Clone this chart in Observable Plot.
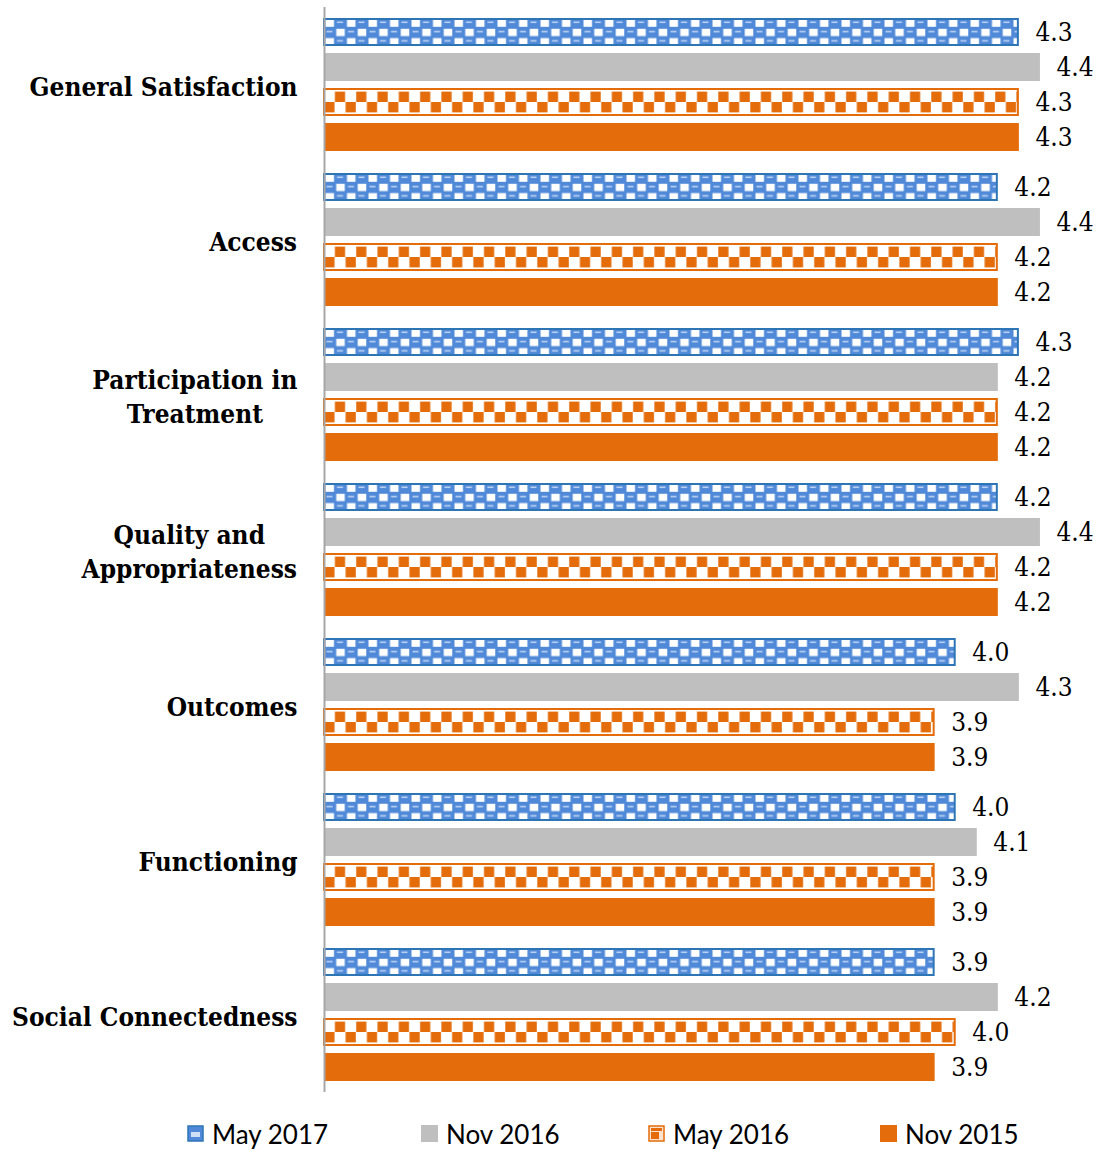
<!DOCTYPE html>
<html>
<head>
<meta charset="utf-8">
<script src="https://cdn.jsdelivr.net/npm/d3@7"></script>
<script src="https://cdn.jsdelivr.net/npm/@observablehq/plot@0.6"></script>
<style>
  body { margin: 0; background: #fff; }
  #chart { width: 1101px; position: relative; }
  .legend { display: flex; padding-left: 187px; height: 51px; align-items: center; padding-top: 16px; box-sizing: border-box;
            font-family: Lato, "Open Sans", sans-serif; font-size: 26px; color: #000; }
  .legend .item { display: flex; align-items: center; }
  .legend svg { margin-right: 8px; }
</style>
</head>
<body>
<div id="chart"></div>
<script>
const categories = ["General Satisfaction", "Access", "Participation in\nTreatment", "Quality and\nAppropriateness", "Outcomes", "Functioning", "Social Connectedness"];
const seriesNames = ["May 2017", "Nov 2016", "May 2016", "Nov 2015"];
const may2017 = [4.3, 4.2, 4.3, 4.2, 4.0, 4.0, 3.9];
const nov2016 = [4.4, 4.4, 4.2, 4.4, 4.3, 4.1, 4.2];
const may2016 = [4.3, 4.2, 4.2, 4.2, 3.9, 3.9, 4.0];
const nov2015 = [4.3, 4.2, 4.2, 4.2, 3.9, 3.9, 3.9];
const scaleMin = 1;

const seriesValues = [may2017, nov2016, may2016, nov2015];
const data = categories.flatMap((c, i) => seriesNames.map((s, j) => ({category: c, series: s, value: seriesValues[j][i]})));

const BLUE = "#2E75B6", BLUEFILL = "#4F89D8", ORANGE = "#E46C0A", GRAY = "#BFBFBF";
const seriesStyle = {
  "May 2017": {fill: "url(#patBlue)", stroke: BLUE, strokeWidth: 2, inset: 1},
  "Nov 2016": {fill: GRAY},
  "May 2016": {fill: "url(#patOrange)", stroke: ORANGE, strokeWidth: 2, inset: 1},
  "Nov 2015": {fill: ORANGE}
};

const labelFont = '"DejaVu Serif Condensed", "DejaVu Serif", serif';

const bars = seriesNames.map(s => Plot.barX(data.filter(d => d.series === s), {
  x1: () => scaleMin, x2: "value", y: "series", fy: "category",
  fill: seriesStyle[s].fill, stroke: seriesStyle[s].stroke, strokeWidth: seriesStyle[s].strokeWidth,
  insetTop: seriesStyle[s].inset || 0, insetBottom: seriesStyle[s].inset || 0, insetRight: seriesStyle[s].inset || 0
}));

const chart = Plot.plot({
  width: 1101, height: 1100,
  marginLeft: 324, marginRight: 40, marginTop: 5, marginBottom: 7,
  x: {domain: [scaleMin, 4.5], axis: null},
  y: {domain: seriesNames, axis: null, paddingInner: 0.21, paddingOuter: 0.29},
  fy: {domain: categories, padding: 0, axis: null},
  style: {background: "#fff"},
  marks: [
    ...bars,
    Plot.text(data, {x: "value", y: "series", fy: "category", text: d => d.value.toFixed(1),
      textAnchor: "start", dx: 16, fontSize: 26, fontFamily: labelFont, fill: "#000"}),
    Plot.ruleX([scaleMin], {stroke: "#A6A6A6", strokeWidth: 2}),
    Plot.axisFy({anchor: "left", tickSize: 0, tickPadding: 27, label: null, fontSize: 26,
      fontWeight: "bold", fontFamily: labelFont, lineHeight: 1.3, fill: "#000"})
  ]
});

// pattern definitions, aligned with the bands of their series
const ys = chart.scale("y"), xs = chart.scale("x");
const x0 = xs.apply(scaleMin);
const defs = d3.select(chart).insert("defs", ":first-child");
const pb = defs.append("pattern").attr("id", "patBlue").attr("patternUnits", "userSpaceOnUse")
  .attr("x", x0).attr("y", ys.apply("May 2017")).attr("width", 21.5).attr("height", 18.6);
pb.append("rect").attr("width", 21.5).attr("height", 18.6).attr("fill", BLUEFILL);
pb.append("rect").attr("x", 1.5).attr("y", 1.5).attr("width", 8.5).attr("height", 7.3).attr("fill", "#fff");
pb.append("rect").attr("x", 12.25).attr("y", 10.8).attr("width", 8.5).attr("height", 7.3).attr("fill", "#fff");
pb.append("rect").attr("x", 13).attr("y", 3.5).attr("width", 6).attr("height", 1.5).attr("fill", "#C2D7F3");
pb.append("rect").attr("x", 2.5).attr("y", 12.8).attr("width", 6).attr("height", 1.5).attr("fill", "#C2D7F3");
const po = defs.append("pattern").attr("id", "patOrange").attr("patternUnits", "userSpaceOnUse")
  .attr("x", x0).attr("y", ys.apply("May 2016")).attr("width", 21.3).attr("height", ys.bandwidth);
po.append("rect").attr("width", 21.3).attr("height", ys.bandwidth).attr("fill", "#fff");
po.append("rect").attr("x", 10.9).attr("y", 3.6).attr("width", 10.2).attr("height", 10.4).attr("fill", ORANGE);
po.append("rect").attr("x", 0.3).attr("y", 14).attr("width", 10.2).attr("height", 10.4).attr("fill", ORANGE);

const container = document.getElementById("chart");
container.appendChild(chart);

// center multi-line category labels like the reference
d3.select(chart).selectAll('g[aria-label="fy-axis tick label"] text').each(function() {
  const w = this.getBBox().width;
  this.setAttribute("text-anchor", "middle");
  this.setAttribute("transform", (this.getAttribute("transform") || "") + ` translate(${-w / 2},0)`);
});

// legend
const legend = d3.select(container).append("div").attr("class", "legend");
const itemWidths = [234, 227, 232, 200];
const swatch = {
  "May 2017": g => { g.append("rect").attr("x", 1).attr("y", 1).attr("width", 15).attr("height", 15).attr("fill", BLUEFILL).attr("stroke", BLUE).attr("stroke-width", 1.5);
                     g.append("rect").attr("x", 4).attr("y", 7).attr("width", 9).attr("height", 5).attr("fill", "#cfe0f6"); },
  "Nov 2016": g => g.append("rect").attr("width", 17).attr("height", 17).attr("fill", GRAY),
  "May 2016": g => { g.append("rect").attr("x", 1).attr("y", 1).attr("width", 15).attr("height", 15).attr("fill", "#fbe3d0").attr("stroke", ORANGE).attr("stroke-width", 1.5);
                     g.append("rect").attr("x", 3).attr("y", 7).attr("width", 8).attr("height", 7).attr("fill", ORANGE);
                     g.append("rect").attr("x", 3).attr("y", 3).attr("width", 11).attr("height", 3).attr("fill", ORANGE); },
  "Nov 2015": g => g.append("rect").attr("width", 17).attr("height", 17).attr("fill", ORANGE)
};
seriesNames.forEach((s, i) => {
  const item = legend.append("div").attr("class", "item").style("width", itemWidths[i] + "px");
  const sv = item.append("svg").attr("width", 17).attr("height", 17);
  swatch[s](sv);
  item.append("span").text(s);
});
</script>
</body>
</html>
